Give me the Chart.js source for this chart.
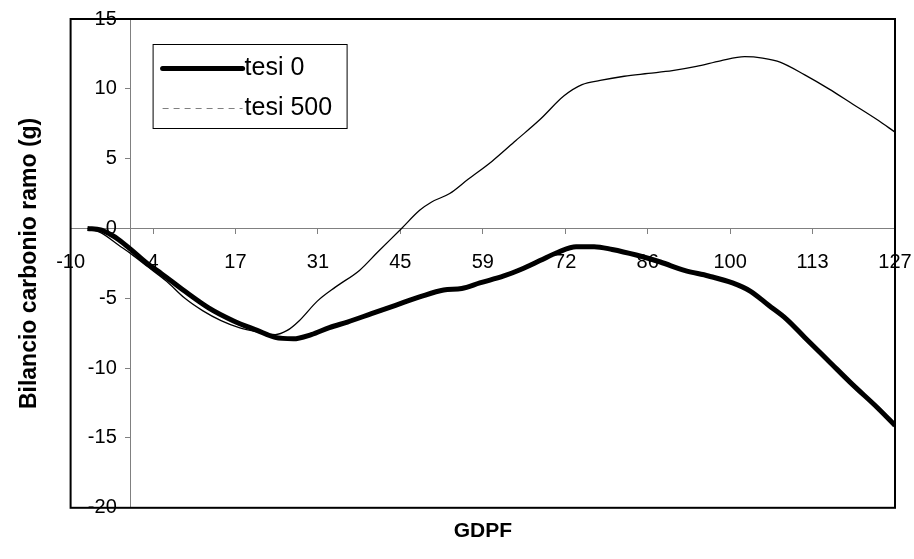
<!DOCTYPE html>
<html lang="it">
<head>
  <meta charset="UTF-8">
  <title>Bilancio carbonio ramo</title>
  <script src="https://cdn.jsdelivr.net/npm/chart.js@4.4.0/dist/chart.umd.min.js"></script>
  <style>
    html, body { margin: 0; padding: 0; background: #fff; }
  </style>
</head>
<body>
  <canvas id="bilancioChart" width="914" height="559"></canvas>

  <script>
    // tick positions on the GDPF axis (Excel splits -10..127 into 10 equal steps)
    const gdpfTicks = [-10, 3.7, 17.4, 31.1, 44.8, 58.5, 72.2, 85.9, 99.6, 113.3, 127];

    // tesi 0
    const tesi0X = [-7.2, -5, -3.5, -2, 0, 3, 5, 9, 13, 17, 21, 24, 27, 30, 33, 36, 40, 44, 48, 52, 55, 58, 62, 65, 68, 71, 74, 77, 80, 84, 88, 92, 96, 100, 103, 106, 109, 112, 116, 120, 124, 127];
    const tesi0Y = [0, -0.1, -0.4, -0.8, -1.5, -2.6, -3.2, -4.5, -5.7, -6.6, -7.3, -7.8, -7.9, -7.6, -7.1, -6.7, -6.1, -5.5, -4.9, -4.4, -4.3, -3.9, -3.4, -2.9, -2.3, -1.7, -1.3, -1.3, -1.5, -1.9, -2.4, -3.0, -3.4, -3.9, -4.5, -5.5, -6.5, -7.8, -9.5, -11.2, -12.8, -14.1];

    // tesi 500
    const tesi500X = [-7.2, -5, -2, 0, 3, 6, 9, 12, 15, 18, 21, 24, 26, 28, 31, 34, 38, 41, 45, 48, 50, 53, 56, 60, 64, 68, 72, 75, 78, 82, 86, 90, 94, 98, 102, 105, 108, 112, 116, 120, 124, 127];
    const tesi500Y = [0, -0.3, -1.2, -1.8, -2.8, -3.8, -5.0, -5.9, -6.6, -7.1, -7.4, -7.6, -7.3, -6.6, -5.2, -4.2, -3.0, -1.7, 0.0, 1.3, 1.9, 2.5, 3.5, 4.8, 6.3, 7.8, 9.5, 10.3, 10.6, 10.9, 11.1, 11.3, 11.6, 12.0, 12.3, 12.2, 11.9, 11.0, 10.0, 8.9, 7.8, 6.9];

    const toPoints = (xs, ys) => xs.map((x, i) => ({ x: x, y: ys[i] }));

    const FONT = 'Liberation Sans, Arial, sans-serif';

    // legend with a frame inside the plot area, plus the black plot border
    const legendBox = {
      id: 'legendBox',
      beforeDraw(chart) {
        // y labels sit against an axis placed at x = 0; push them a bit left of the ticks
        chart.scales.y.getLabelItems(chart.chartArea).forEach(item => {
          item.options.translation[0] -= 14;
        });
      },
      afterDatasetsDraw(chart) {
        const ctx = chart.ctx;
        const area = chart.chartArea;
        const left = area.left + 82;
        const top = area.top + 25;
        ctx.save();
        ctx.fillStyle = '#fff';
        ctx.fillRect(left, top, 194, 84);
        ctx.strokeStyle = '#000';
        ctx.lineWidth = 1;
        ctx.strokeRect(left + 0.5, top + 0.5, 194, 84);

        const rows = [
          { ds: chart.data.datasets[0], y: top + 24, dash: [], color: '#000', width: 5 },
          { ds: chart.data.datasets[1], y: top + 64, dash: [6, 5], color: '#808080', width: 1 }
        ];
        ctx.font = '25px ' + FONT;
        ctx.textBaseline = 'middle';
        rows.forEach(r => {
          ctx.beginPath();
          ctx.setLineDash(r.dash);
          ctx.strokeStyle = r.color;
          ctx.lineWidth = r.width;
          ctx.lineCap = r.dash.length ? 'butt' : 'round';
          ctx.moveTo(left + 10, r.y + 0.5);
          ctx.lineTo(left + 90, r.y + 0.5);
          ctx.stroke();
          ctx.setLineDash([]);
          ctx.fillStyle = '#000';
          ctx.fillText(r.ds.label, left + 92, r.y);
        });
        ctx.restore();
      },
      afterDraw(chart) {
        const ctx = chart.ctx;
        const a = chart.chartArea;
        ctx.save();
        ctx.strokeStyle = '#000';
        ctx.lineWidth = 2;
        ctx.strokeRect(a.left, a.top, a.right - a.left, a.bottom - a.top);
        ctx.restore();
      }
    };

    const ctx = document.getElementById('bilancioChart').getContext('2d');
    new Chart(ctx, {
      type: 'line',
      data: {
        datasets: [
          {
            label: 'tesi 0',
            data: toPoints(tesi0X, tesi0Y),
            borderColor: '#000',
            borderWidth: 5,
            pointRadius: 0,
            cubicInterpolationMode: 'monotone',
            fill: false
          },
          {
            label: 'tesi 500',
            data: toPoints(tesi500X, tesi500Y),
            borderColor: '#000',
            borderWidth: 1.3,
            pointRadius: 0,
            cubicInterpolationMode: 'monotone',
            fill: false
          }
        ]
      },
      options: {
        responsive: false,
        animation: false,
        layout: { autoPadding: false, padding: { left: 9, top: 19, right: 19, bottom: 0 } },
        plugins: {
          legend: { display: false },
          tooltip: { enabled: false }
        },
        scales: {
          x: {
            type: 'linear',
            min: -10,
            max: 127,
            position: { y: 0 },
            afterBuildTicks: s => { s.ticks = gdpfTicks.map(v => ({ value: v })); },
            // the end labels may hang over the frame, like in Excel
            afterFit: s => { s.paddingLeft = 0; s.paddingRight = 0; },
            ticks: {
              autoSkip: false,
              maxRotation: 0,
              padding: 17,
              color: '#000',
              font: { family: FONT, size: 20 },
              callback: v => Math.round(v)
            },
            grid: { drawOnChartArea: false, drawTicks: true, tickLength: 5, color: '#808080' },
            border: { color: '#808080', width: 1 }
          },
          y: {
            type: 'linear',
            min: -20,
            max: 15,
            position: { x: 0 },
            afterFit: s => { s.paddingTop = 0; s.paddingBottom = 0; },
            ticks: {
              stepSize: 5,
              color: '#000',
              font: { family: FONT, size: 20 }
            },
            grid: { drawOnChartArea: false, drawTicks: true, tickLength: 5, color: '#808080' },
            border: { color: '#808080', width: 1 }
          },
          xTitle: {
            type: 'linear',
            position: 'bottom',
            display: true,
            ticks: { display: false },
            grid: { display: false, drawTicks: false },
            border: { display: false },
            title: {
              display: true,
              text: 'GDPF',
              color: '#000',
              font: { family: FONT, size: 21, weight: 'bold' },
              padding: { top: 11, bottom: 15 }
            }
          },
          yTitle: {
            type: 'linear',
            position: 'left',
            display: true,
            ticks: { display: false },
            grid: { display: false, drawTicks: false },
            border: { display: false },
            title: {
              display: true,
              text: 'Bilancio carbonio ramo (g)',
              color: '#000',
              font: { family: FONT, size: 23, weight: 'bold' },
              padding: { top: 7, bottom: 27 }
            }
          }
        }
      },
      plugins: [legendBox]
    });
  </script>
</body>
</html>
